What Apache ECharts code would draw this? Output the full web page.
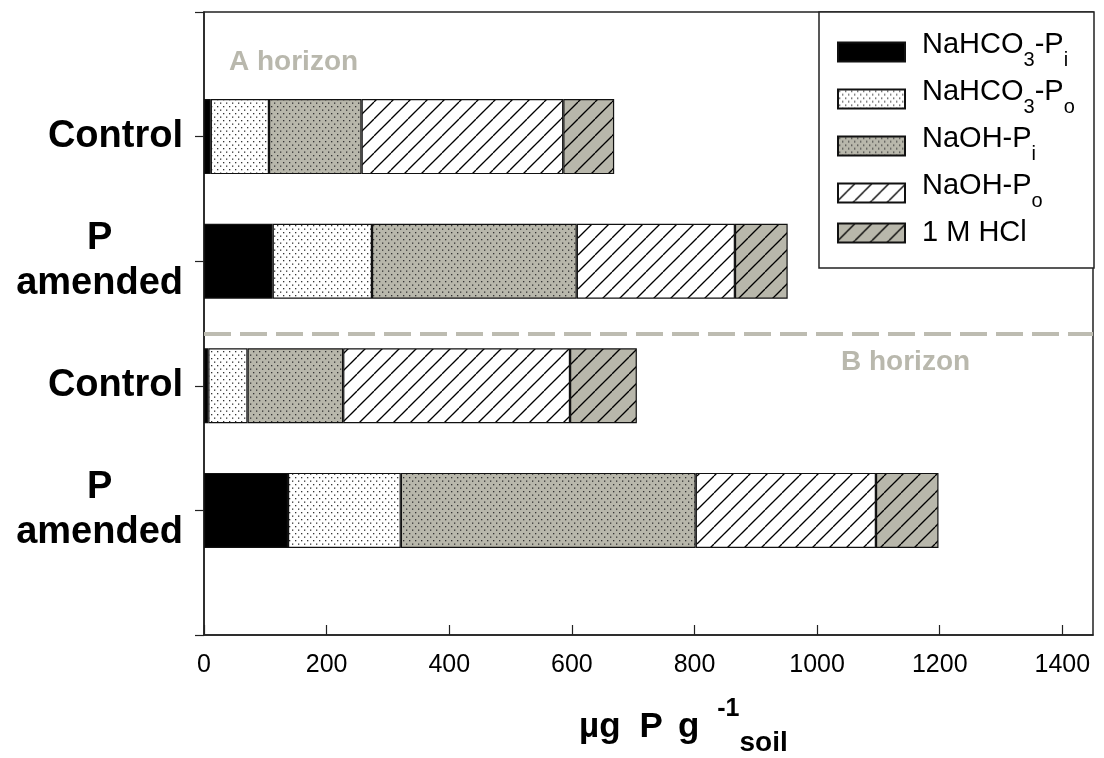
<!DOCTYPE html>
<html>
<head>
<meta charset="utf-8">
<script src="https://cdn.jsdelivr.net/npm/echarts@6/dist/echarts.min.js"></script>
<style>
  html, body { margin: 0; padding: 0; background: #fff; }
  #chart { width: 1104px; height: 758px; }
</style>
</head>
<body>
<div id="chart"></div>
<script>
// rows, top to bottom
const groups = ['Control', 'P\namended', 'Control', 'P\namended']
const horizons = ['A', 'A', 'B', 'B']
const fractions = ['NaHCO3-Pi', 'NaHCO3-Po', 'NaOH-Pi', 'NaOH-Po', '1 M HCl']

// µg P / g soil, same row order as groups
const nahco3Pi = [11, 112, 7, 137]
const nahco3Po = [95, 162, 64, 184]
const naohPi = [151, 334, 156, 481]
const naohPo = [329, 258, 370, 294]
const hcl = [83, 86, 109, 102]

const horizonSplit = 2.42 // between the two horizons, in row units (bottom row = 1)

const GREY = '#b8b7ab'
const FONT = "'Liberation Sans', Arial, sans-serif"

// fill patterns
const makeTile = (w, h, draw) => {
  const c = document.createElement('canvas')
  c.width = w
  c.height = h
  draw(c.getContext('2d'), w, h)
  return { image: c, repeat: 'repeat' }
}
const dots = (bg) => makeTile(6, 7, (ctx, w, h) => {
  ctx.fillStyle = bg
  ctx.fillRect(0, 0, w, h)
  ctx.fillStyle = '#333'
  ctx.fillRect(1, 1, 1.3, 1.3)
  ctx.fillRect(4, 4.5, 1.3, 1.3)
})
const hatch = (bg) => makeTile(17, 17, (ctx, w, h) => {
  ctx.fillStyle = bg
  ctx.fillRect(0, 0, w, h)
  ctx.strokeStyle = '#000'
  ctx.lineWidth = 1.3
  for (let k = -1; k <= 1; k++) {
    ctx.beginPath()
    ctx.moveTo(k * w, h)
    ctx.lineTo(k * w + w, 0)
    ctx.stroke()
  }
})
const fills = ['#000', dots('#fff'), dots(GREY), hatch('#fff'), hatch(GREY)]

// category slots bottom -> top, with an empty slot at each end
const slots = ['lo'].concat(groups.map((g, i) => horizons[i] + i).reverse(), ['hi'])
const slotLabels = [''].concat(groups.slice().reverse(), [''])
const toSlots = (arr) => ['-'].concat(arr.slice().reverse(), ['-'])

const legendText = {
  'NaHCO3-Pi': '{f|NaHCO}{s|3}{n|-P}{s|i}',
  'NaHCO3-Po': '{f|NaHCO}{s|3}{n|-P}{s|o}',
  'NaOH-Pi': '{f|NaOH-P}{s|i}',
  'NaOH-Po': '{f|NaOH-P}{s|o}',
  '1 M HCl': '{p|1 M HCl}'
}

const chart = echarts.init(document.getElementById('chart'))

const barSeries = [nahco3Pi, nahco3Po, naohPi, naohPo, hcl].map((vals, i) => ({
  name: fractions[i],
  type: 'bar',
  stack: 'total',
  barWidth: 75,
  data: toSlots(vals),
  itemStyle: { color: fills[i], borderColor: '#111', borderWidth: 1.2 }
}))

chart.setOption({
  animation: false,
  textStyle: { fontFamily: FONT },
  grid: {
    left: 204, right: 11, top: 12, bottom: 123,
    show: true, borderColor: '#222', borderWidth: 1.5,
    outerBoundsMode: 'none'
  },
  legend: {
    data: fractions,
    orient: 'vertical',
    left: 837,
    top: 30.5,
    padding: 0,
    itemGap: 7.5,
    itemWidth: 67,
    itemHeight: 19,
    icon: 'rect',
    selectedMode: false,
    formatter: (name) => legendText[name],
    textStyle: {
      fontFamily: FONT,
      color: '#000',
      rich: {
        f: { fontSize: 29, fontFamily: FONT, padding: [0, 0, 14, 12] },
        n: { fontSize: 29, fontFamily: FONT, padding: [0, 0, 14, 0] },
        p: { fontSize: 29, fontFamily: FONT, padding: [3.5, 0, 3.5, 12] },
        s: { fontSize: 20, fontFamily: FONT, padding: [16, 0, 0, 0] }
      }
    }
  },
  xAxis: {
    type: 'value',
    min: 0,
    max: 1450,
    interval: 200,
    splitLine: { show: false },
    axisLine: { show: true, lineStyle: { color: '#222', width: 1.5 } },
    axisTick: { show: true, inside: true, length: 10, lineStyle: { color: '#222', width: 1.2 } },
    axisLabel: {
      showMaxLabel: false,
      margin: 18,
      fontSize: 25,
      color: '#000',
      fontFamily: FONT,
      formatter: (v) => (v % 200 === 0 ? String(v) : '')
    }
  },
  yAxis: [
    {
      type: 'category',
      data: slots,
      boundaryGap: false,
      axisLine: { show: true, lineStyle: { color: '#222', width: 1.5 } },
      axisTick: { show: true, inside: false, length: 9, interval: 0, lineStyle: { color: '#222', width: 1.2 } },
      axisLabel: {
        interval: 0,
        margin: 21,
        align: 'right',
        formatter: (v, i) => slotLabels[i]
          ? slotLabels[i].split('\n').map((s) => '{c|' + s + '}').join('\n')
          : '',
        rich: {
          c: { fontSize: 38, fontWeight: 'bold', lineHeight: 45, align: 'center', color: '#000', fontFamily: FONT }
        }
      }
    },
    { type: 'value', min: 0, max: 5, show: false }
  ],
  series: barSeries.concat([{
    name: 'split',
    type: 'line',
    yAxisIndex: 1,
    data: [],
    markLine: {
      silent: true,
      symbol: ['none', 'none'],
      label: { show: false },
      lineStyle: { color: '#bdbcb1', width: 4, type: [27, 9] },
      data: [{ yAxis: horizonSplit }]
    }
  }]),
  graphic: [
    {
      type: 'rect',
      z: 3,
      shape: { x: 819, y: 12, width: 275, height: 256 },
      style: { fill: '#fff', stroke: '#222', lineWidth: 1.5 }
    },
    {
      type: 'text', x: 229, y: 62, z: 3,
      style: { text: 'A horizon', fontSize: 28, fontWeight: 'bold', fontFamily: FONT, fill: '#b9b8ad', verticalAlign: 'middle' }
    },
    {
      type: 'text', x: 841, y: 362, z: 3,
      style: { text: 'B horizon', fontSize: 28, fontWeight: 'bold', fontFamily: FONT, fill: '#b9b8ad', verticalAlign: 'middle' }
    },
    {
      type: 'text', x: 579, y: 727.2, z: 3,
      style: {
        text: '{m|µg}{w|P}{g|g}{sup|-1}{sub|soil}',
        align: 'left',
        verticalAlign: 'middle',
        fill: '#000',
        rich: {
          m: { fontSize: 35, fontWeight: 'bold', fontFamily: FONT },
          w: { fontSize: 35, fontWeight: 'bold', fontFamily: FONT, padding: [0, 0, 0, 19] },
          g: { fontSize: 35, fontWeight: 'bold', fontFamily: FONT, padding: [0, 0, 0, 15] },
          sup: { fontSize: 25, fontWeight: 'bold', fontFamily: FONT, padding: [0, 0, 36, 18] },
          sub: { fontSize: 28, fontWeight: 'bold', fontFamily: FONT, padding: [32, 0, 0, 0] }
        }
      }
    }
  ]
})
</script>
</body>
</html>
